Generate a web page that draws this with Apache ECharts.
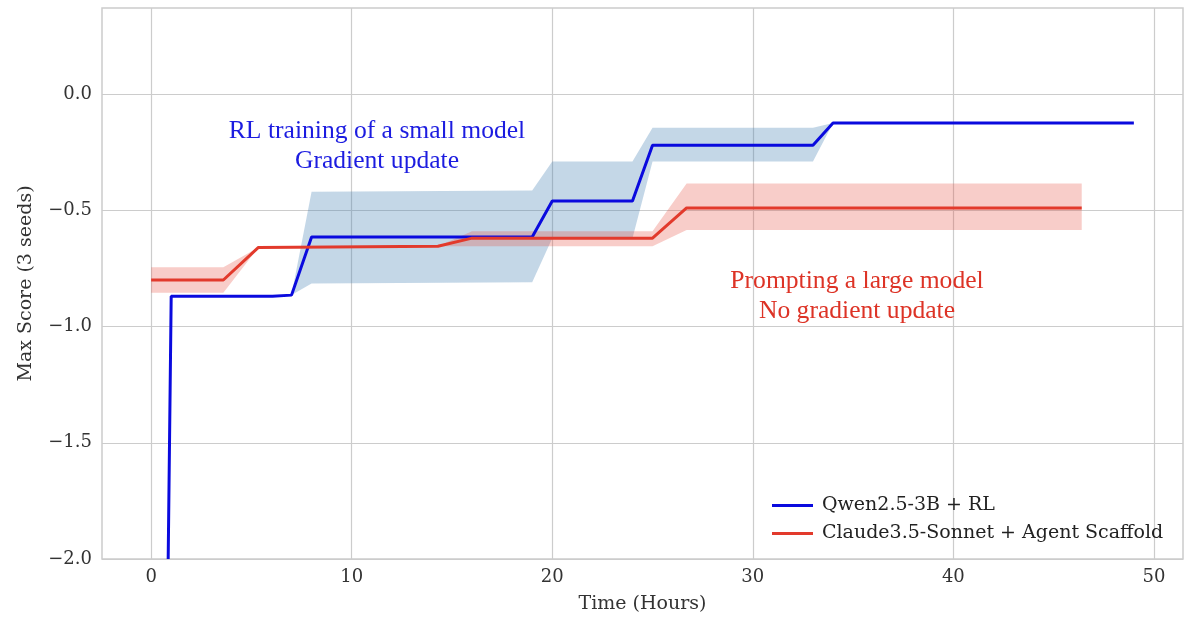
<!DOCTYPE html>
<html>
<head>
<meta charset="utf-8">
<script src="https://cdn.jsdelivr.net/npm/echarts@6/dist/echarts.min.js"></script>
<style>
  html, body { margin: 0; padding: 0; background: #fff; }
  #chart { width: 1200px; height: 621px; }
</style>
</head>
<body>
<div id="chart"></div>
<script>
// Qwen2.5-3B + RL (mean of 3 seeds)
const qwenX = [0.85, 1.0, 6.05, 7.0, 8.0, 19.0, 20.0, 24.0, 25.0, 33.0, 34.0, 49.0];
const qwenY = [-2.0, -0.87, -0.87, -0.865, -0.615, -0.615, -0.46, -0.46, -0.22, -0.22, -0.125, -0.125];
// spread band around it
const qwenBandX = [7.0, 8.0, 19.0, 20.0, 24.0, 25.0, 33.0, 34.0];
const qwenLo = [-0.865, -0.815, -0.81, -0.62, -0.62, -0.29, -0.29, -0.125];
const qwenHi = [-0.865, -0.42, -0.415, -0.29, -0.29, -0.145, -0.145, -0.125];

// Claude3.5-Sonnet + Agent Scaffold
const claudeX = [0, 3.6, 5.35, 14.3, 16.0, 25.0, 26.7, 46.4];
const claudeY = [-0.80, -0.80, -0.66, -0.655, -0.62, -0.62, -0.49, -0.49];
const claudeLo = [-0.855, -0.855, -0.66, -0.655, -0.655, -0.655, -0.585, -0.585];
const claudeHi = [-0.745, -0.745, -0.66, -0.655, -0.59, -0.59, -0.385, -0.385];

const xTicks = [0, 10, 20, 30, 40, 50];
const yTicks = [-2.0, -1.5, -1.0, -0.5, 0.0];

const BLUE = '#0a0ade';
const RED = '#e23a2c';
const serif = '"DejaVu Serif", serif';

function bandSeries(xs, lo, hi, color) {
  return {
    type: 'custom',
    silent: true,
    z: 1,
    data: xs.map((x, i) => [x, lo[i], hi[i]]),
    encode: { x: 0, y: [1, 2] },
    renderItem: (params, api) => {
      if (params.dataIndex !== 0) return null;
      const top = xs.map((x, i) => api.coord([x, hi[i]]));
      const bot = xs.map((x, i) => api.coord([x, lo[i]])).reverse();
      return {
        type: 'polygon',
        shape: { points: top.concat(bot) },
        style: { fill: color }
      };
    }
  };
}

const fmt = v => (v < 0 ? '\u2212' : '') + Math.abs(v).toFixed(1);

const chart = echarts.init(document.getElementById('chart'), null, { renderer: 'canvas' });
chart.setOption({
  animation: false,
  grid: {
    left: 102, right: 17, top: 8, bottom: 62,
    show: true, borderColor: '#cccccc', borderWidth: 1.5, backgroundColor: '#fff'
  },
  xAxis: {
    type: 'value', min: -2.45, max: 51.45,
    name: 'Time (Hours)', nameLocation: 'middle', nameGap: 36,
    nameTextStyle: { fontFamily: serif, fontSize: 19, color: '#333' },
    axisLine: { show: false },
    axisTick: { show: false, customValues: xTicks },
    axisLabel: { customValues: xTicks, fontFamily: serif, fontSize: 18, color: '#333', margin: 9 },
    splitLine: { show: true, lineStyle: { color: '#cccccc', width: 1.2 } }
  },
  yAxis: {
    type: 'value', min: -2.0, max: 0.37,
    name: 'Max Score (3 seeds)', nameLocation: 'middle', nameGap: 66,
    nameTextStyle: { fontFamily: serif, fontSize: 19, color: '#333' },
    axisLine: { show: false },
    axisTick: { show: false, customValues: yTicks },
    axisLabel: { customValues: yTicks, formatter: fmt, fontFamily: serif, fontSize: 18, color: '#333', margin: 10 },
    splitLine: { show: true, lineStyle: { color: '#cccccc', width: 1.2 } }
  },
  legend: {
    data: ['Qwen2.5-3B + RL', 'Claude3.5-Sonnet + Agent Scaffold'],
    orient: 'vertical', left: 767, top: 491,
    icon: 'rect', itemWidth: 41, itemHeight: 3, itemGap: 9,
    textStyle: { fontFamily: serif, fontSize: 19, color: '#222', padding: [0, 0, 0, 4] }
  },
  series: [
    bandSeries(qwenBandX, qwenLo, qwenHi, 'rgba(70,130,180,0.32)'),
    bandSeries(claudeX, claudeLo, claudeHi, 'rgba(231,76,60,0.28)'),
    {
      name: 'Qwen2.5-3B + RL', type: 'line', z: 3,
      data: qwenX.map((x, i) => [x, qwenY[i]]),
      showSymbol: false, color: BLUE,
      lineStyle: { color: BLUE, width: 3 }
    },
    {
      name: 'Claude3.5-Sonnet + Agent Scaffold', type: 'line', z: 3,
      data: claudeX.map((x, i) => [x, claudeY[i]]),
      showSymbol: false, color: RED,
      lineStyle: { color: RED, width: 3 }
    }
  ],
  graphic: [
    {
      type: 'text', x: 377, y: 146, z: 10,
      style: {
        text: 'RL training of a small model\nGradient update',
        align: 'center', verticalAlign: 'middle', lineHeight: 30,
        font: '25.6px "Liberation Serif", serif', fill: '#1c1ce0'
      }
    },
    {
      type: 'text', x: 857, y: 296, z: 10,
      style: {
        text: 'Prompting a large model\nNo gradient update',
        align: 'center', verticalAlign: 'middle', lineHeight: 30,
        font: '25.6px "Liberation Serif", serif', fill: '#dd3326'
      }
    }
  ]
});
</script>
</body>
</html>
